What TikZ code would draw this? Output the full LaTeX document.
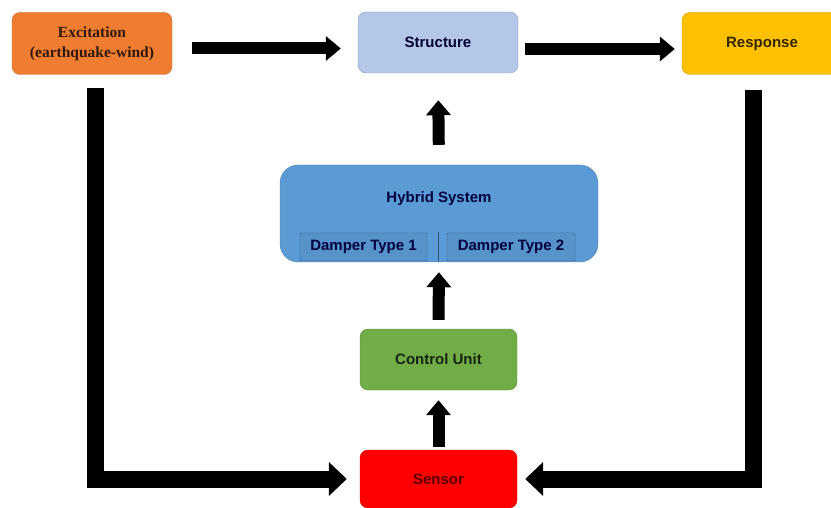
\documentclass[tikz,border=0pt]{standalone}
\usepackage{fontspec}
\setmainfont{Liberation Sans}
\newfontfamily\serifbold{Liberation Serif}
\usetikzlibrary{arrows.meta}

\definecolor{excfill}{HTML}{EE7D31}
\definecolor{strfill}{HTML}{B4C7E7}
\definecolor{resfill}{HTML}{FFC000}
\definecolor{hybfill}{HTML}{5B9BD5}
\definecolor{ctrfill}{HTML}{70AD47}
\definecolor{senfill}{HTML}{FF0000}

\tikzset{
  block/.style={rounded corners=8pt, minimum width=160pt, minimum height=62pt,
                inner sep=0pt, align=center, font=\fontsize{15}{20}\selectfont\bfseries},
  flow/.style={line width=12pt, -{Triangle[length=15pt,width=24pt]}},
  bigflow/.style={line width=17pt, -{Triangle[length=18pt,width=33pt]}}
}

\begin{document}
\begin{tikzpicture}[x=1pt,y=-1pt]
        \useasboundingbox (0,0) rectangle (831,508);
        \clip (0,0) rectangle (831,508);

        % top row
        \node[block, fill=excfill, draw=excfill!85!black, text=excfill!20!black,
              font=\serifbold\fontsize{15.5}{20}\selectfont\bfseries] (exc) at (92,43.5) {Excitation\\(earthquake-wind)};
        \node[block, fill=strfill, draw=strfill!80!black, text=blue!20!black, minimum height=61pt] (struct) at (438,42.5) {Structure};
        \node[block, fill=resfill, draw=resfill!80!black, text=resfill!20!black] (resp) at (762,43.5) {Response};

        % hybrid system
        \node[block, fill=hybfill, draw=hybfill!85!black, rounded corners=18pt,
              minimum width=318pt, minimum height=97pt] (hybrid) at (439,213.5) {};
        \node[font=\fontsize{15}{18}\selectfont\bfseries, text=blue!25!black] (hybtitle) at (439,199) {Hybrid System};
        \node[block, fill=hybfill!95!black, draw=hybfill!60!black, rounded corners=1pt,
              minimum width=127pt, minimum height=28pt, text=blue!25!black] (damp1) at (363.5,247) {Damper Type 1};
        \node[block, fill=hybfill!95!black, draw=hybfill!60!black, rounded corners=1pt,
              minimum width=128pt, minimum height=28pt, text=blue!25!black] (damp2) at (511,247) {Damper Type 2};
        \draw[hybfill!55!black, thin] (438,232) -- (438,262);

        % control loop
        \node[block, fill=ctrfill, draw=ctrfill!85!black, text=ctrfill!20!black,
              minimum width=157pt, minimum height=61pt] (ctrl) at (438.5,359.5) {Control Unit};
        \node[block, fill=senfill, draw=senfill!85!black, text=senfill!35!black,
              minimum width=157pt, minimum height=58pt] (sensor) at (438.5,479) {Sensor};

        \draw[flow, shorten <=20pt, shorten >=17pt] ([yshift=-5pt]exc.east) -- ([yshift=-5pt]exc.east -| struct.west);
        \draw[flow, shorten <=7pt, shorten >=7pt] ([yshift=-6.5pt]struct.east) -- ([yshift=-6.5pt]struct.east -| resp.west);
        \draw[flow, shorten <=20pt, shorten >=27pt] (hybrid.north) -- (struct.south);
        \draw[flow, shorten <=9pt, shorten >=10pt] (ctrl.north) -- (hybrid.south);
        \draw[flow, shorten <=3pt, shorten >=10pt] (sensor.north) -- (ctrl.south);

        \draw[bigflow, shorten <=13pt, shorten >=13pt] ([xshift=3pt]exc.south) |- (sensor.west);
        \draw[bigflow, shorten <=15pt, shorten >=8pt] ([xshift=-9pt]resp.south) |- (sensor.east);
\end{tikzpicture}
\end{document}
